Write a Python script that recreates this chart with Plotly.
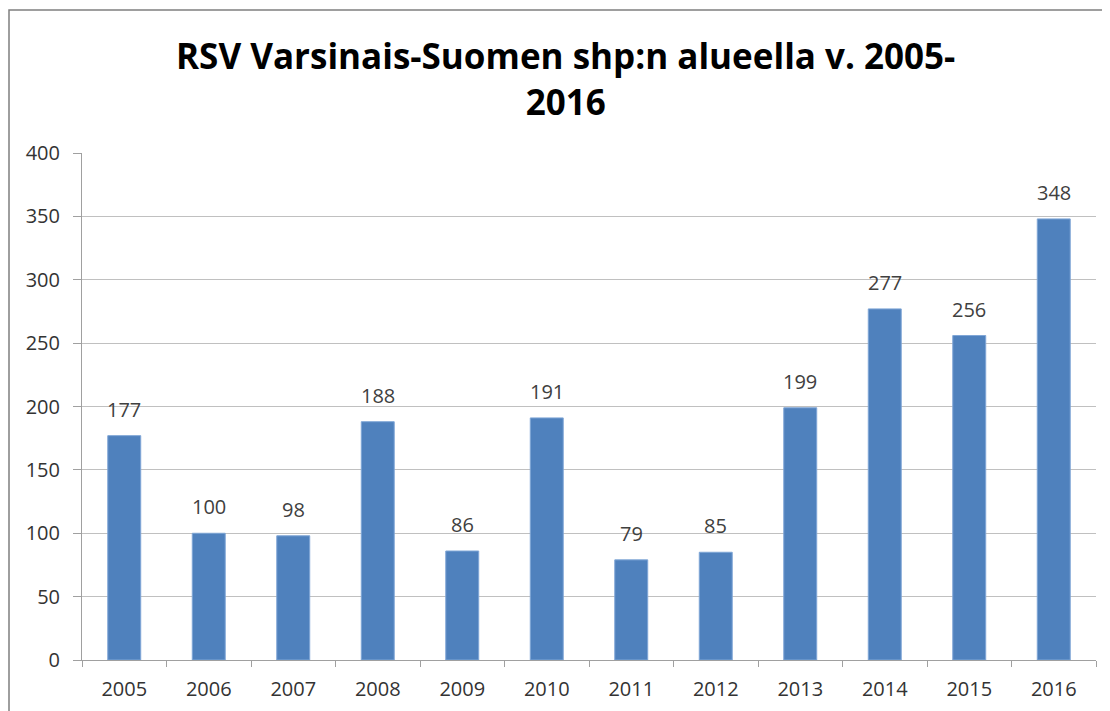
import plotly.graph_objects as go

years = ["2005", "2006", "2007", "2008", "2009", "2010", "2011", "2012", "2013", "2014", "2015", "2016"]
cases = [177, 100, 98, 188, 86, 191, 79, 85, 199, 277, 256, 348]
y_ticks = [0, 50, 100, 150, 200, 250, 300, 350, 400]

title_text = "RSV Varsinais-Suomen shp:n alueella v. 2005-<br>2016"
font_family = "Open Sans, Liberation Sans, sans-serif"

# The page body adds an 8px offset; the figure is sized to fill the rest of the window.
W, H = 1102, 703
L, R, T, B = 74, 14, 145, 51

fig = go.Figure(
    go.Bar(
        x=years,
        y=cases,
        marker=dict(color="#4F81BD", line=dict(color="#7FA6D6", width=1)),
        hoverinfo="x+y",
    )
)

# value labels above bars (positioned by category index on the category axis)
for i, v in enumerate(cases):
    fig.add_annotation(
        x=i, y=v, xref="x", yref="y",
        text=str(v), showarrow=False,
        yanchor="bottom", yshift=11,
        font=dict(size=20, color="#404040", family=font_family),
    )

pw = W - L - R
ph = H - T - B
tx = (565 - 8 - L) / pw
fig.add_annotation(
    x=tx, y=1 + (T - (79 - 8)) / ph, xref="paper", yref="paper",
    text=title_text, showarrow=False, xanchor="center", yanchor="middle",
    align="center",
    font=dict(size=35, color="#000000", family=font_family, weight="bold"),
)

fig.update_layout(
    width=W,
    height=H,
    margin=dict(l=L, r=R, t=T, b=B, autoexpand=False),
    paper_bgcolor="white",
    plot_bgcolor="white",
    bargap=0.61,
    showlegend=False,
)

fig.update_xaxes(
    type="category",
    range=[-0.5, len(years) - 0.5],
    tickson="boundaries",
    ticks="outside",
    ticklen=6,
    tickcolor="#A0A0A0",
    showline=True,
    linecolor="#A0A0A0",
    linewidth=1,
    showgrid=False,
    ticklabelstandoff=11,
    tickfont=dict(size=20, color="#333333", family=font_family),
)

fig.update_yaxes(
    range=[0, 400],
    tickvals=y_ticks,
    ticks="outside",
    ticklen=8,
    tickcolor="#A0A0A0",
    showline=True,
    linecolor="#A0A0A0",
    linewidth=1,
    showgrid=True,
    gridcolor="#C0C0C0",
    gridwidth=1,
    zeroline=False,
    ticklabelstandoff=9,
    tickfont=dict(size=20, color="#333333", family=font_family),
)

# outer chart border (cropped at right and bottom like the reference)
fig.add_shape(
    type="rect", xref="paper", yref="paper",
    x0=-(L - 1) / pw, x1=1.1, y0=-0.3, y1=1 + (T - 2) / ph,
    line=dict(color="#7F7F7F", width=1.5), fillcolor="rgba(0,0,0,0)", layer="below",
)

fig.write_html("out.html")
